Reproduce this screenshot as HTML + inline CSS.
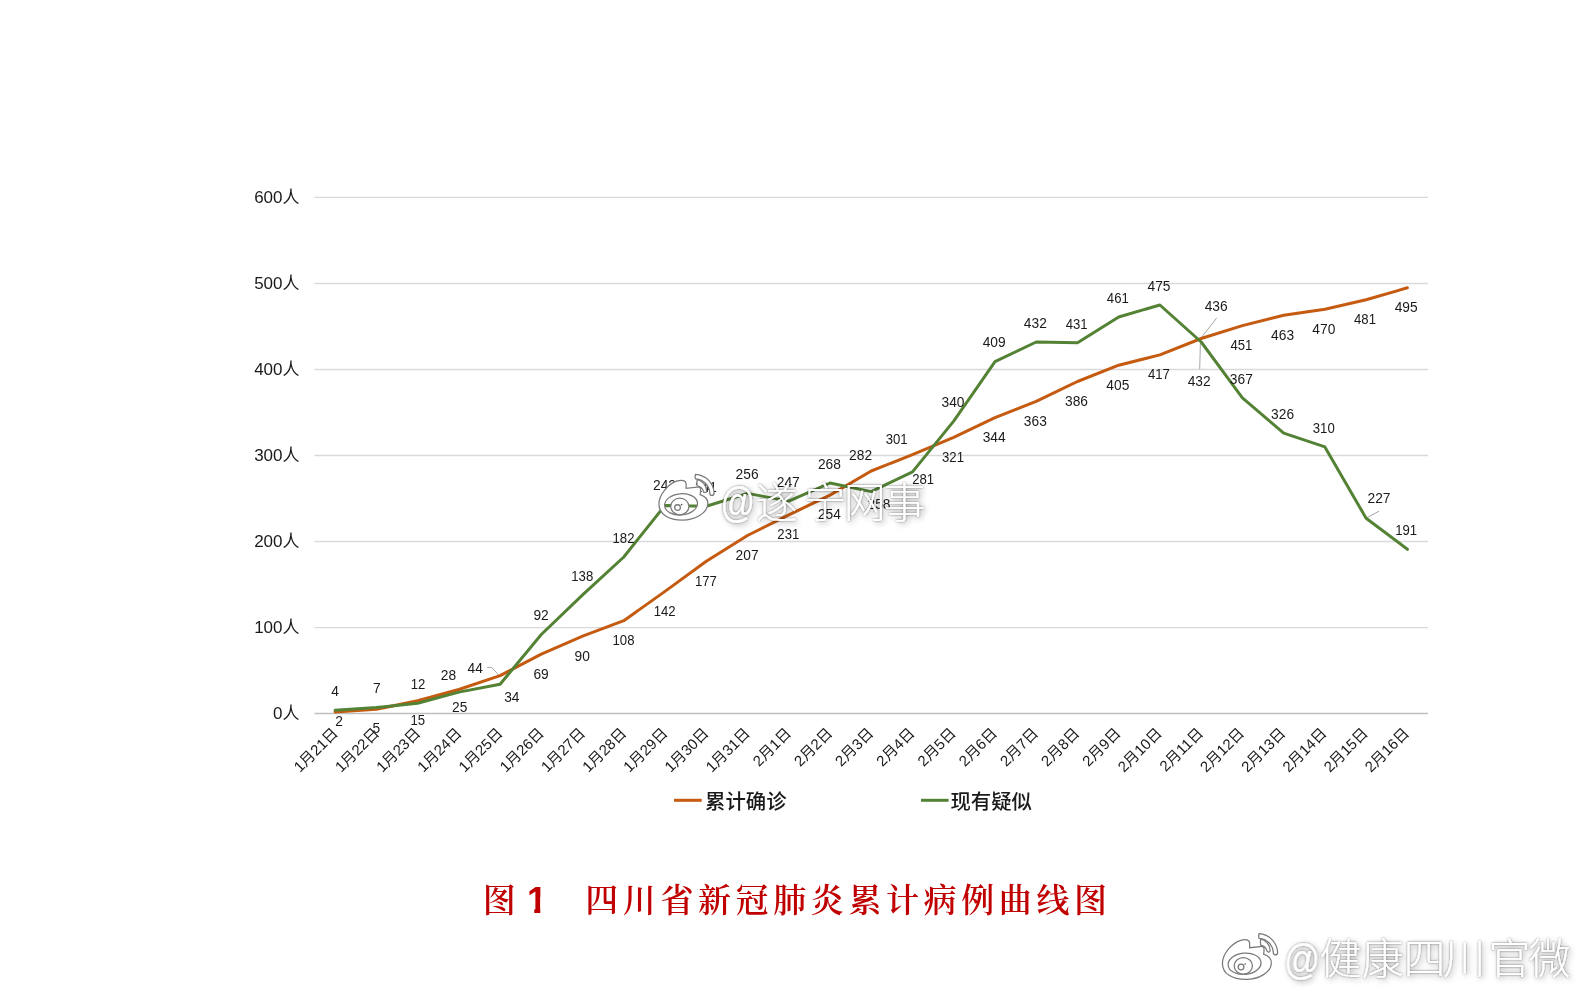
<!DOCTYPE html>
<html><head><meta charset="utf-8"><title>四川省新冠肺炎累计病例曲线图</title>
<style>
html,body{margin:0;padding:0;background:#fff;}
body{width:1584px;height:997px;overflow:hidden;position:relative;}
svg{position:absolute;left:0;top:0;will-change:transform;}
.yl text{font-family:"Liberation Sans","Noto Sans CJK SC",sans-serif;font-size:17px;fill:#1a1a1a;}
.xl text{font-family:"Liberation Sans","Noto Sans CJK SC",sans-serif;font-size:15px;fill:#1a1a1a;}
.dl text{font-family:"Liberation Sans","Noto Sans CJK SC",sans-serif;font-size:14px;fill:#1a1a1a;}
.lg{font-family:"Liberation Sans","Noto Sans CJK SC",sans-serif;font-size:20.4px;fill:#1a1a1a;font-weight:500;}
.tt{font-family:"Liberation Serif","Noto Serif CJK SC",serif;font-size:33px;fill:#C00000;font-weight:600;}
.t1{font-family:"Liberation Sans",sans-serif;font-size:36px;fill:#C00000;font-weight:700;}
.wm{font-family:"Liberation Sans","Noto Sans CJK SC",sans-serif;fill:#fff;font-size:42px;font-weight:300;}
</style></head><body>
<svg width="1584" height="997" viewBox="0 0 1584 997">
<g stroke="#D9D9D9" stroke-width="1.3"><line x1="314.5" y1="627.6" x2="1428" y2="627.6"/><line x1="314.5" y1="541.5" x2="1428" y2="541.5"/><line x1="314.5" y1="455.5" x2="1428" y2="455.5"/><line x1="314.5" y1="369.5" x2="1428" y2="369.5"/><line x1="314.5" y1="283.5" x2="1428" y2="283.5"/><line x1="314.5" y1="197.4" x2="1428" y2="197.4"/></g>
<line x1="314.5" y1="713.6" x2="1428" y2="713.6" stroke="#BFBFBF" stroke-width="1.5"/>
<g class="yl" text-anchor="end"><text x="299.5" y="718.8">0人</text><text x="299.5" y="632.8">100人</text><text x="299.5" y="546.7">200人</text><text x="299.5" y="460.7">300人</text><text x="299.5" y="374.7">400人</text><text x="299.5" y="288.7">500人</text><text x="299.5" y="202.6">600人</text></g>
<g class="xl" text-anchor="end"><text x="338.9" y="734.2" transform="rotate(-45 338.9 734.2)">1月21日</text><text x="380.1" y="734.2" transform="rotate(-45 380.1 734.2)">1月22日</text><text x="421.3" y="734.2" transform="rotate(-45 421.3 734.2)">1月23日</text><text x="462.5" y="734.2" transform="rotate(-45 462.5 734.2)">1月24日</text><text x="503.7" y="734.2" transform="rotate(-45 503.7 734.2)">1月25日</text><text x="544.9" y="734.2" transform="rotate(-45 544.9 734.2)">1月26日</text><text x="586.1" y="734.2" transform="rotate(-45 586.1 734.2)">1月27日</text><text x="627.3" y="734.2" transform="rotate(-45 627.3 734.2)">1月28日</text><text x="668.5" y="734.2" transform="rotate(-45 668.5 734.2)">1月29日</text><text x="709.7" y="734.2" transform="rotate(-45 709.7 734.2)">1月30日</text><text x="750.9" y="734.2" transform="rotate(-45 750.9 734.2)">1月31日</text><text x="792.1" y="734.2" transform="rotate(-45 792.1 734.2)">2月1日</text><text x="833.3" y="734.2" transform="rotate(-45 833.3 734.2)">2月2日</text><text x="874.4" y="734.2" transform="rotate(-45 874.4 734.2)">2月3日</text><text x="915.6" y="734.2" transform="rotate(-45 915.6 734.2)">2月4日</text><text x="956.8" y="734.2" transform="rotate(-45 956.8 734.2)">2月5日</text><text x="998.0" y="734.2" transform="rotate(-45 998.0 734.2)">2月6日</text><text x="1039.2" y="734.2" transform="rotate(-45 1039.2 734.2)">2月7日</text><text x="1080.4" y="734.2" transform="rotate(-45 1080.4 734.2)">2月8日</text><text x="1121.6" y="734.2" transform="rotate(-45 1121.6 734.2)">2月9日</text><text x="1162.8" y="734.2" transform="rotate(-45 1162.8 734.2)">2月10日</text><text x="1204.0" y="734.2" transform="rotate(-45 1204.0 734.2)">2月11日</text><text x="1245.2" y="734.2" transform="rotate(-45 1245.2 734.2)">2月12日</text><text x="1286.4" y="734.2" transform="rotate(-45 1286.4 734.2)">2月13日</text><text x="1327.6" y="734.2" transform="rotate(-45 1327.6 734.2)">2月14日</text><text x="1368.8" y="734.2" transform="rotate(-45 1368.8 734.2)">2月15日</text><text x="1410.0" y="734.2" transform="rotate(-45 1410.0 734.2)">2月16日</text></g>
<g stroke="#A6A6A6" stroke-width="1" fill="none"><polyline points="487.1,667.4 491.6,667.4 499.1,675.3"/><polyline points="1216.8,317.8 1201,338"/><polyline points="1199.7,369 1200.4,343"/><polyline points="1379,511.2 1366.4,518"/></g>
<polyline points="335.1,711.9 376.4,709.3 417.6,700.7 458.8,689.5 500.1,675.7 541.3,654.2 582.6,636.2 623.8,620.7 665.0,591.4 706.3,561.3 747.5,535.5 788.8,514.9 830.0,495.1 871.2,471.0 912.5,454.6 953.7,437.4 995.0,417.7 1036.2,401.3 1077.5,381.5 1118.7,365.2 1159.9,354.9 1201.2,338.5 1242.4,325.6 1283.7,315.3 1324.9,309.3 1366.1,299.8 1407.4,287.8" fill="none" stroke="#C55A11" stroke-width="3" stroke-linejoin="round" stroke-linecap="round"/>
<polyline points="335.1,710.2 376.4,707.6 417.6,703.3 458.8,692.1 500.1,684.3 541.3,634.5 582.6,594.9 623.8,557.0 665.0,505.4 706.3,506.3 747.5,493.4 788.8,501.1 830.0,483.0 871.2,491.6 912.5,471.9 953.7,421.1 995.0,361.7 1036.2,342.0 1077.5,342.8 1118.7,317.0 1159.9,305.0 1201.2,342.0 1242.4,397.9 1283.7,433.1 1324.9,446.9 1366.1,518.3 1407.4,549.3" fill="none" stroke="#548235" stroke-width="3" stroke-linejoin="round" stroke-linecap="round"/>
<g class="dl" text-anchor="middle"><text x="335.2" y="695.9" transform="matrix(0.985 0 0 1 5.0 0)">4</text><text x="376.9" y="693.3" transform="matrix(0.985 0 0 1 5.7 0)">7</text><text x="418.1" y="689.2" transform="matrix(0.94 0 0 1 25.1 0)">12</text><text x="459.7" y="711.8" transform="matrix(0.985 0 0 1 6.9 0)">25</text><text x="511.8" y="701.6" transform="matrix(0.985 0 0 1 7.7 0)">34</text><text x="541.1" y="620.3" transform="matrix(0.985 0 0 1 8.1 0)">92</text><text x="582.3" y="580.7" transform="matrix(0.94 0 0 1 34.9 0)">138</text><text x="623.5" y="542.8" transform="matrix(0.94 0 0 1 37.4 0)">182</text><text x="664.5" y="490.2" transform="matrix(0.985 0 0 1 10.0 0)">242</text><text x="705.9" y="492.1" transform="matrix(0.94 0 0 1 42.4 0)">241</text><text x="747.1" y="479.2" transform="matrix(0.985 0 0 1 11.2 0)">256</text><text x="788.3" y="486.9" transform="matrix(0.985 0 0 1 11.8 0)">247</text><text x="829.5" y="468.9" transform="matrix(0.985 0 0 1 12.4 0)">268</text><text x="879.0" y="509.5" transform="matrix(0.985 0 0 1 13.2 0)">258</text><text x="923.2" y="484.4" transform="matrix(0.94 0 0 1 55.4 0)">281</text><text x="953.0" y="406.9" transform="matrix(0.985 0 0 1 14.3 0)">340</text><text x="994.2" y="347.5" transform="matrix(0.985 0 0 1 14.9 0)">409</text><text x="1035.4" y="327.8" transform="matrix(0.985 0 0 1 15.5 0)">432</text><text x="1076.6" y="328.6" transform="matrix(0.94 0 0 1 64.6 0)">431</text><text x="1117.8" y="302.8" transform="matrix(0.94 0 0 1 67.1 0)">461</text><text x="1159.0" y="290.8" transform="matrix(0.985 0 0 1 17.4 0)">475</text><text x="1199.2" y="386.0" transform="matrix(0.985 0 0 1 18.0 0)">432</text><text x="1241.4" y="383.7" transform="matrix(0.985 0 0 1 18.6 0)">367</text><text x="1282.6" y="419.0" transform="matrix(0.985 0 0 1 19.2 0)">326</text><text x="1323.8" y="432.7" transform="matrix(0.94 0 0 1 79.4 0)">310</text><text x="1379.0" y="503.5" transform="matrix(0.985 0 0 1 20.7 0)">227</text><text x="1406.2" y="535.1" transform="matrix(0.94 0 0 1 84.4 0)">191</text><text x="339.2" y="725.8" transform="matrix(0.985 0 0 1 5.1 0)">2</text><text x="376.5" y="733.4" transform="matrix(0.985 0 0 1 5.6 0)">5</text><text x="417.8" y="725.2" transform="matrix(0.94 0 0 1 25.1 0)">15</text><text x="448.5" y="680.5" transform="matrix(0.985 0 0 1 6.7 0)">28</text><text x="475.2" y="672.8" transform="matrix(0.985 0 0 1 7.1 0)">44</text><text x="541.1" y="678.7" transform="matrix(0.985 0 0 1 8.1 0)">69</text><text x="582.3" y="660.6" transform="matrix(0.985 0 0 1 8.7 0)">90</text><text x="623.5" y="645.1" transform="matrix(0.94 0 0 1 37.4 0)">108</text><text x="664.7" y="615.9" transform="matrix(0.94 0 0 1 39.9 0)">142</text><text x="705.9" y="585.8" transform="matrix(0.94 0 0 1 42.4 0)">177</text><text x="747.1" y="560.0" transform="matrix(0.985 0 0 1 11.2 0)">207</text><text x="788.3" y="539.3" transform="matrix(0.94 0 0 1 47.3 0)">231</text><text x="829.5" y="519.5" transform="matrix(0.985 0 0 1 12.4 0)">254</text><text x="860.6" y="459.8" transform="matrix(0.985 0 0 1 12.9 0)">282</text><text x="896.7" y="444.0" transform="matrix(0.94 0 0 1 53.8 0)">301</text><text x="953.0" y="461.9" transform="matrix(0.94 0 0 1 57.2 0)">321</text><text x="994.2" y="442.1" transform="matrix(0.985 0 0 1 14.9 0)">344</text><text x="1035.4" y="425.8" transform="matrix(0.985 0 0 1 15.5 0)">363</text><text x="1076.6" y="406.0" transform="matrix(0.985 0 0 1 16.1 0)">386</text><text x="1117.8" y="389.6" transform="matrix(0.985 0 0 1 16.8 0)">405</text><text x="1159.0" y="379.3" transform="matrix(0.94 0 0 1 69.5 0)">417</text><text x="1216.2" y="311.1" transform="matrix(0.985 0 0 1 18.2 0)">436</text><text x="1241.4" y="350.1" transform="matrix(0.94 0 0 1 74.5 0)">451</text><text x="1282.6" y="339.7" transform="matrix(0.985 0 0 1 19.2 0)">463</text><text x="1323.8" y="333.7" transform="matrix(0.985 0 0 1 19.9 0)">470</text><text x="1365.0" y="324.3" transform="matrix(0.94 0 0 1 81.9 0)">481</text><text x="1406.2" y="312.2" transform="matrix(0.985 0 0 1 21.1 0)">495</text></g>
<line x1="674" y1="800.3" x2="701.7" y2="800.3" stroke="#C55A11" stroke-width="3"/>
<text class="lg" x="705" y="809">累计确诊</text>
<line x1="921" y1="800.3" x2="948.6" y2="800.3" stroke="#548235" stroke-width="3"/>
<text class="lg" x="950.4" y="809">现有疑似</text>
<text class="tt" x="499.2" y="912" text-anchor="middle">图</text>
<clipPath id="c1"><path d="M520,880 H545 V897 H540.3 V915 H534.3 V897 H520 Z"/></clipPath>
<text class="t1" x="537" y="913" text-anchor="middle" clip-path="url(#c1)">1</text>
<text class="tt" x="601.7 639.3 676.9 714.5 752.1 789.7 827.3 864.9 902.5 940.1 977.7 1015.3 1052.9 1090.5" y="912" text-anchor="middle">四川省新冠肺炎累计病例曲线图</text>
<defs><filter id="sh" x="-30%" y="-30%" width="160%" height="160%"><feGaussianBlur in="SourceAlpha" stdDeviation="1.3" result="a"/><feComponentTransfer in="a" result="a2"><feFuncA type="linear" slope="0.5"/></feComponentTransfer><feGaussianBlur in="SourceAlpha" stdDeviation="3" result="b"/><feOffset in="b" dx="1.5" dy="1.5" result="b1"/><feComponentTransfer in="b1" result="b2"><feFuncA type="linear" slope="0.35"/></feComponentTransfer><feMerge><feMergeNode in="b2"/><feMergeNode in="a2"/><feMergeNode in="SourceGraphic"/></feMerge></filter></defs>
<g transform="translate(651.5,468.6) scale(0.0572)"><g stroke="#7a7a7a" stroke-width="22">
<path fill="#fff" fill-rule="evenodd" d="M130,620 C130,450 300,260 450,215 C540,190 600,210 605,260 L605,345 L835,320 C860,330 860,400 850,455 C930,480 990,540 985,620 C975,780 760,900 540,900 C300,900 130,800 130,620 Z M230,650 A287,185 -5 1 0 804,600 A287,185 -5 1 0 230,650 Z"/>
<ellipse fill="#fff" cx="495" cy="662" rx="160" ry="145"/>
<circle fill="none" cx="455" cy="682" r="50"/>
<path fill="#fff" d="M770,100 A345,345 0 0 1 1095,430 Q1090,470 1055,470 Q1020,470 1020,430 A265,265 0 0 0 770,180 Q755,140 770,100 Z"/>
<path fill="#fff" d="M800,190 A220,220 0 0 1 965,390 Q960,420 935,420 Q905,420 905,390 A140,140 0 0 0 800,300 Q785,245 800,190 Z"/>
</g>
<circle cx="527" cy="630" r="14" fill="#555"/></g>
<g transform="translate(1215,928) scale(0.0572)"><g stroke="#7a7a7a" stroke-width="22">
<path fill="#fff" fill-rule="evenodd" d="M130,620 C130,450 300,260 450,215 C540,190 600,210 605,260 L605,345 L835,320 C860,330 860,400 850,455 C930,480 990,540 985,620 C975,780 760,900 540,900 C300,900 130,800 130,620 Z M230,650 A287,185 -5 1 0 804,600 A287,185 -5 1 0 230,650 Z"/>
<ellipse fill="#fff" cx="495" cy="662" rx="160" ry="145"/>
<circle fill="none" cx="455" cy="682" r="50"/>
<path fill="#fff" d="M770,100 A345,345 0 0 1 1095,430 Q1090,470 1055,470 Q1020,470 1020,430 A265,265 0 0 0 770,180 Q755,140 770,100 Z"/>
<path fill="#fff" d="M800,190 A220,220 0 0 1 965,390 Q960,420 935,420 Q905,420 905,390 A140,140 0 0 0 800,300 Q785,245 800,190 Z"/>
</g>
<circle cx="527" cy="630" r="14" fill="#555"/></g>
<g filter="url(#sh)">
<text class="wm" x="737.7" y="517.5" text-anchor="middle" transform="matrix(0.82 0 0 1 132.8 0)">@</text>
<text class="wm" x="776.7 825 864.7 904.5" y="517.5" text-anchor="middle">遂宁网事</text>
<text class="wm" x="1302" y="973.8" text-anchor="middle" transform="matrix(0.85 0 0 1 195.3 0)">@</text>
<text class="wm" x="1340.5 1382.7 1424.4 1464.3 1509.4 1549.7" y="973.8" text-anchor="middle">健康四川官微</text>
</g>
</svg>
</body></html>
